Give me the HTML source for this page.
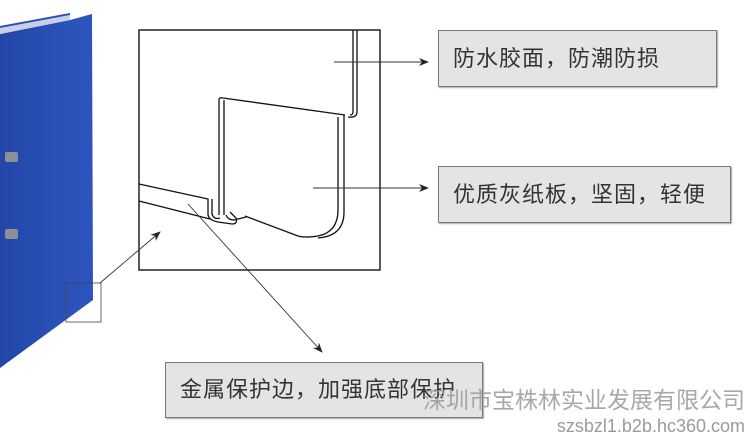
<!DOCTYPE html>
<html><head><meta charset="utf-8"><style>
html,body{margin:0;padding:0;background:#fff;width:750px;height:436px;overflow:hidden;position:relative;font-family:"Liberation Sans","Noto Sans CJK SC",sans-serif}
.box{position:absolute;background:#e4e4e4;border:1.5px solid #777;box-shadow:1px 1px 1px #aaa;color:#333;font-size:22px;line-height:1;display:flex;align-items:center;padding-left:14px;box-sizing:border-box;letter-spacing:1px;white-space:nowrap}
.wm{position:absolute;color:#9a9a9a;white-space:nowrap;line-height:1;text-align:right;font-family:"Liberation Sans","Noto Sans CJK SC",sans-serif}
</style></head><body>
<svg width="750" height="436" style="position:absolute;left:0;top:0">
<defs>
<linearGradient id="bl" x1="0" x2="1" y1="0" y2="0"><stop offset="0" stop-color="#2346a8"/><stop offset="0.7" stop-color="#2a52b8"/><stop offset="1" stop-color="#2c54bd"/></linearGradient>
<marker id="ah" markerWidth="10" markerHeight="8" refX="9" refY="4" orient="auto" markerUnits="userSpaceOnUse"><path d="M0,0 L10,4 L0,8 L3,4z" fill="#222"/></marker>
</defs>
<polygon points="0,34 70,20 92,14 93,300 0,368" fill="url(#bl)"/>
<polygon points="0,28 70,15 70,20 0,34" fill="#c8d0e8"/>
<polygon points="0,26 70,13 70,15 0,28" fill="#2a4fb5"/>
<rect x="5" y="152" width="13" height="10" rx="2" fill="#8a8f99"/>
<rect x="5" y="229" width="13" height="10" rx="2" fill="#8a8f99"/>
<rect x="66" y="283" width="35" height="39" fill="none" stroke="#444" stroke-width="0.8"/>
<rect x="139" y="30" width="241" height="240" fill="#fff" stroke="#222" stroke-width="1.5"/>
<g fill="none" stroke="#111" stroke-width="1.3">
<path d="M353,30 V112 Q353,115 350,115 M357,30 V112 Q357,118 348,117"/>
<path d="M219,215 V100 Q219,97 223,98 L345,115"/>
<path d="M224,215 V100"/>
<path d="M338,117 V210 Q338,232 318,236 Q305,238 298,236 L245,216"/>
<path d="M344,115 V212 Q344,236 318,238"/>
<path d="M139,184 L208,199 V214 Q208,220 218,222 L232,224 Q238,224 236,218 L230,212"/>
<path d="M139,201 L210,219"/>
<path d="M212,199 V214 Q214,220 220,218 M226,215 Q228,220 234,220 L246,217"/>
</g>
<g stroke="#333" stroke-width="0.9" fill="none">
<line x1="334" y1="62" x2="428" y2="62" marker-end="url(#ah)"/>
<line x1="313" y1="188" x2="428" y2="188" marker-end="url(#ah)"/>
<line x1="100" y1="283" x2="160" y2="232" marker-end="url(#ah)"/>
<line x1="188" y1="204" x2="322" y2="352" marker-end="url(#ah)"/>
</g>
</svg>
<div class="box" style="left:438px;top:30px;width:279px;height:57px">防水胶面，防潮防损</div>
<div class="box" style="left:438px;top:166px;width:293px;height:57px">优质灰纸板，坚固，轻便</div>
<div class="box" style="left:165px;top:362px;width:318px;height:56px">金属保护边，加强底部保护</div>
<div class="wm" style="right:5px;top:389px;font-size:23px;opacity:0.85">深圳市宝株林实业发展有限公司</div>
<div class="wm" style="right:5px;top:417px;font-size:18px">szsbzl1.b2b.hc360.com</div>
</body></html>
